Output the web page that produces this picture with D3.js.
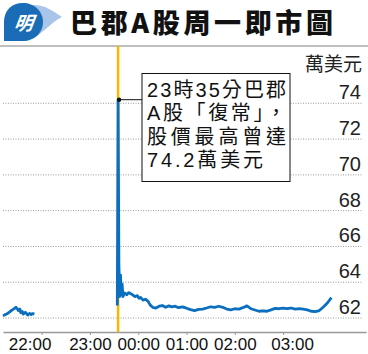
<!DOCTYPE html>
<html>
<head>
<meta charset="utf-8">
<script src="https://cdn.jsdelivr.net/npm/d3@7"></script>
<style>
  body { margin: 0; background: #fff; }
  svg { display: block; }
  text { font-family: "Liberation Sans", Arial, "Noto Sans CJK TC", sans-serif; }
</style>
</head>
<body>
<div id="chart"></div>
<script>
// price in 10k USD, Hong Kong time
var titleText = "巴郡A股周一即市圖";
var unitText = "萬美元";
var yTicks = [62, 64, 66, 68, 70, 72, 74];
var xTickLabels = ["22:00", "23:00", "00:00", "01:00", "02:00", "03:00"];
var noteLines = ["23時35分巴郡", "A股「復常」，", "股價最高曾達", "74.2萬美元"];
var resumeTime = "23:35";
var peakValue = 74.2;

// before the halt
var preTimes = ["21:12", "21:15", "21:17", "21:20", "21:23", "21:25", "21:28", "21:30", "21:31", "21:33",
  "21:34", "21:36", "21:37", "21:39", "21:40", "21:42", "21:43", "21:45", "21:47", "21:49", "21:51"];
var preValues = [62.12, 62.2, 62.24, 62.33, 62.44, 62.5, 62.6, 62.5, 62.42, 62.5,
  62.3, 62.36, 62.22, 62.3, 62.32, 62.2, 62.17, 62.26, 62.2, 62.25, 62.22];

// after trading resumed
var postTimes = ["23:34", "23:35", "23:36", "23:37", "23:38", "23:39", "23:40", "23:41", "23:43", "23:46",
  "23:48", "23:50", "23:53", "23:56", "23:59", "00:01", "00:03", "00:06", "00:09", "00:12",
  "00:15", "00:18", "00:22", "00:26", "00:30", "00:34", "00:38", "00:42", "00:46", "00:50",
  "00:55", "01:00", "01:05", "01:10", "01:15", "01:20", "01:25", "01:30", "01:35", "01:40",
  "01:45", "01:50", "01:55", "02:00", "02:05", "02:10", "02:15", "02:20", "02:25", "02:30",
  "02:35", "02:40", "02:45", "02:50", "02:55", "03:00", "03:05", "03:10", "03:15", "03:20",
  "03:25", "03:30", "03:35", "03:40", "03:45", "03:50", "03:55", "04:00"];
var postValues = [62.7, 74.2, 65.0, 63.2, 64.4, 63.3, 63.9, 63.2, 63.4, 63.3,
  63.42, 63.38, 63.3, 63.2, 63.25, 63.1, 63.15, 63.0, 63.05, 62.95,
  62.72, 62.6, 62.56, 62.66, 62.7, 62.6, 62.68, 62.62, 62.66, 62.58,
  62.62, 62.55, 62.47, 62.42, 62.48, 62.5, 62.56, 62.63, 62.6, 62.66,
  62.6, 62.5, 62.46, 62.52, 62.5, 62.58, 62.68, 62.52, 62.45, 62.38,
  62.4, 62.38, 62.46, 62.54, 62.52, 62.55, 62.52, 62.56, 62.5, 62.53,
  62.5, 62.46, 62.38, 62.36, 62.42, 62.62, 62.84, 63.14];
var xStart = "21:12", xEnd = "04:43";
var yMin = 61.22, yMax = 77.2;

var W = 368, H = 354;
var blue = "#0b6fbf", yellow = "#f5b700";

// times before noon belong to the next day
function toDate(s) {
  var h = +s.slice(0, 2), m = +s.slice(3, 5);
  return new Date(2024, 5, h < 12 ? 4 : 3, h, m);
}

var svg = d3.select("#chart").append("svg")
  .attr("width", W)
  .attr("height", H);

// header: logo + title
var logo = svg.append("g");
logo.append("path")
  .attr("d", "M30,5 C44,4 52,10 62,17 C52,22 46,30 34,38 Z")
  .attr("fill", "#a9c6ea");
logo.append("path")
  .attr("d", "M4,41 L4,22 C4,10 12,3 23,3 C34,3 43,11 43,22 C43,33 34,41 23,41 Z")
  .attr("fill", "#1a6cb6");
logo.append("text")
  .attr("x", 23).attr("y", 30)
  .attr("text-anchor", "middle")
  .attr("font-size", 19)
  .attr("font-weight", "bold")
  .attr("font-style", "italic")
  .attr("fill", "#fff")
  .style("font-family", "Noto Sans CJK TC")
  .attr("transform", "skewX(-8) translate(4,0)")
  .text("明");

svg.append("text")
  .attr("x", 70).attr("y", 33)
  .attr("font-size", 27)
  .attr("font-weight", 900)
  .attr("fill", "#111")
  .style("font-family", "'Noto Sans CJK TC', sans-serif")
  .attr("textLength", 263)
  .attr("lengthAdjust", "spacing")
  .text(titleText);

svg.append("line")
  .attr("x1", 0).attr("x2", W)
  .attr("y1", 46).attr("y2", 46)
  .attr("stroke", "#aaa")
  .attr("stroke-width", 1.5);

// scales
var x = d3.scaleTime()
  .domain([toDate(xStart), toDate(xEnd)])
  .range([3, 366]);

var y = d3.scaleLinear()
  .domain([yMin, yMax])
  .range([332, 46]);

// gridlines and right-side labels
var grid = svg.append("g");
grid.selectAll("line")
  .data(yTicks)
  .enter().append("line")
  .attr("x1", 3).attr("x2", 362)
  .attr("y1", function(d) { return y(d); })
  .attr("y2", function(d) { return y(d); })
  .attr("stroke", "#999")
  .attr("stroke-width", 1)
  .attr("stroke-dasharray", "1,1.5");

grid.selectAll("text")
  .data(yTicks)
  .enter().append("text")
  .attr("x", 361)
  .attr("y", function(d) { return y(d) - 4; })
  .attr("text-anchor", "end")
  .attr("font-size", 20)
  .attr("fill", "#222")
  .text(function(d) { return d; });

svg.append("text")
  .attr("x", 362).attr("y", 71)
  .attr("text-anchor", "end")
  .attr("font-size", 19)
  .attr("fill", "#222")
  .style("font-family", "'Noto Sans CJK TC', sans-serif")
  .text(unitText);

// x axis
var xAxis = d3.axisBottom(x)
  .tickValues(xTickLabels.map(toDate))
  .tickFormat(d3.timeFormat("%H:%M"))
  .tickSize(3)
  .tickSizeOuter(0)
  .tickPadding(3);

var ax = svg.append("g")
  .attr("transform", "translate(0,332)")
  .call(xAxis);
ax.select(".domain").attr("stroke", "#999").attr("stroke-width", 1.5);
ax.selectAll(".tick line").attr("stroke", "#999");
ax.selectAll(".tick text")
  .attr("font-size", 17)
  .attr("fill", "#111")
  .style("font-family", "'Liberation Sans', Arial, sans-serif")
  .attr("dx", function(d, i) { return i == 0 ? -12 : (i == xTickLabels.length - 1 ? 9 : 0); });

// resumption marker
var xr = x(toDate(resumeTime));
svg.append("line")
  .attr("x1", xr).attr("x2", xr)
  .attr("y1", 46).attr("y2", 332)
  .attr("stroke", yellow)
  .attr("stroke-width", 2.5);

// price line
var line = d3.line()
  .x(function(d) { return x(d.t); })
  .y(function(d) { return y(d.v); });

var pre = preTimes.map(function(t, i) { return { t: toDate(t), v: preValues[i] }; });
var post = postTimes.map(function(t, i) { return { t: toDate(t), v: postValues[i] }; });

[pre, post].forEach(function(seg) {
  svg.append("path")
    .datum(seg)
    .attr("fill", "none")
    .attr("stroke", blue)
    .attr("stroke-width", 2.8)
    .attr("stroke-linejoin", "round")
    .attr("d", line);
});

// annotation
var px = x(toDate(resumeTime)) + 1, py = y(peakValue);
svg.append("line")
  .attr("x1", px).attr("x2", 142)
  .attr("y1", py).attr("y2", py)
  .attr("stroke", "#111")
  .attr("stroke-width", 1);
svg.append("circle")
  .attr("cx", px).attr("cy", py)
  .attr("r", 2.2)
  .attr("fill", "#111");

svg.append("rect")
  .attr("x", 142).attr("y", 73.5)
  .attr("width", 148).attr("height", 108)
  .attr("fill", "#fff")
  .attr("stroke", "#111")
  .attr("stroke-width", 1);

svg.append("g").selectAll("text")
  .data(noteLines)
  .enter().append("text")
  .attr("x", 147)
  .attr("y", function(d, i) { return 97 + i * 23.3; })
  .attr("font-size", 20)
  .attr("fill", "#111")
  .attr("textLength", function(d, i) { return i == 3 ? 116 : 139; })
  .attr("lengthAdjust", "spacing")
  .text(function(d) { return d; });
</script>
</body>
</html>
